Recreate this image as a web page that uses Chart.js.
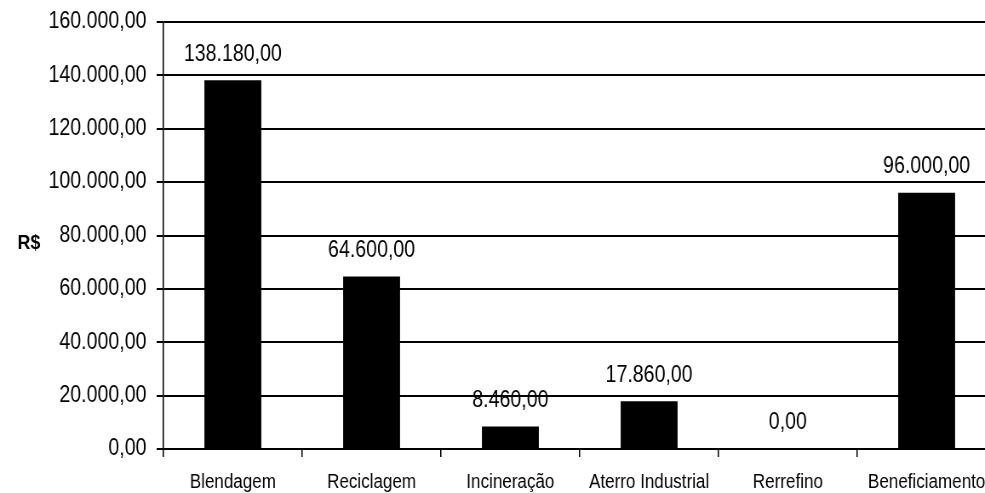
<!DOCTYPE html>
<html lang="pt-BR">
<head>
<meta charset="utf-8">
<title>Custos por destinação</title>
<script src="https://cdn.jsdelivr.net/npm/chart.js@4/dist/chart.umd.min.js"></script>
<style>
    html, body { margin: 0; padding: 0; background: #fff; overflow: hidden; }
    /* o gráfico é desenhado mais largo e comprimido na horizontal (fonte estreita) */
    #quadro { width: 1170px; height: 493px; transform: scaleX(0.8513); transform-origin: 0 0; }
</style>
</head>
<body>
<div id="quadro"><canvas id="grafico" width="1170" height="493"></canvas></div>
<script>
const categorias = ['Blendagem', 'Reciclagem', 'Incineração', 'Aterro Industrial', 'Rerrefino', 'Beneficiamento'];
const custos = [138180, 64600, 8460, 17860, 0, 96000];
const eixoMin = 0;
const eixoMax = 160000;
const eixoPasso = 20000;
const rotuloEixo = 'R$';

const fonte = '"Liberation Sans", Arial, sans-serif';

// 138180 -> "138.180,00"
function formatarReal(v) {
    const [inteiro, dec] = Number(v).toFixed(2).split('.');
    return inteiro.replace(/\B(?=(\d{3})+(?!\d))/g, '.') + ',' + dec;
}

// valores em cima de cada barra
const rotulosBarras = {
    id: 'rotulosBarras',
    afterDatasetsDraw(chart) {
        const ctx = chart.ctx;
        const meta = chart.getDatasetMeta(0);
        ctx.save();
        ctx.font = '23px ' + fonte;
        ctx.fillStyle = '#000';
        ctx.textAlign = 'center';
        ctx.textBaseline = 'middle';
        meta.data.forEach((barra, i) => {
            ctx.fillText(formatarReal(custos[i]), barra.x, barra.y - 26);
        });
        ctx.restore();
    }
};

// "R$" na horizontal, à esquerda do eixo
const tituloEixo = {
    id: 'tituloEixo',
    afterDraw(chart) {
        const ctx = chart.ctx;
        ctx.save();
        ctx.font = 'bold 21px ' + fonte;
        ctx.fillStyle = '#000';
        ctx.textAlign = 'center';
        ctx.textBaseline = 'middle';
        ctx.fillText(rotuloEixo, 34, 243);
        ctx.restore();
    }
};

new Chart(document.getElementById('grafico').getContext('2d'), {
    type: 'bar',
    data: {
        labels: categorias,
        datasets: [{
            data: custos,
            backgroundColor: '#000',
            borderWidth: 0,
            barPercentage: 0.41,
            categoryPercentage: 1
        }]
    },
    options: {
        responsive: false,
        animation: false,
        devicePixelRatio: 1,
        layout: { padding: { top: 22, right: 0, bottom: 0, left: 0 } },
        plugins: {
            legend: { display: false },
            tooltip: { enabled: false }
        },
        scales: {
            x: {
                grid: { drawOnChartArea: false, color: '#000', lineWidth: 1.5, tickLength: 8 },
                border: { color: '#000', width: 2 },
                ticks: {
                    color: '#000',
                    font: { family: fonte, size: 20 },
                    autoSkip: false,
                    maxRotation: 0,
                    padding: 13
                },
                afterFit(scale) {
                    scale.height = 44;
                    scale.paddingLeft = 0;
                    scale.paddingRight = 0;
                }
            },
            y: {
                min: eixoMin,
                max: eixoMax,
                grid: { color: '#000', lineWidth: 2, tickLength: 8 },
                border: { color: '#000', width: 1.5 },
                ticks: {
                    stepSize: eixoPasso,
                    color: '#000',
                    font: { family: fonte, size: 23 },
                    padding: 12,
                    callback: v => formatarReal(v)
                },
                afterFit(scale) {
                    scale.width = 192;
                    scale.paddingTop = 0;
                    scale.paddingBottom = 0;
                }
            }
        }
    },
    plugins: [rotulosBarras, tituloEixo]
});
</script>
</body>
</html>
